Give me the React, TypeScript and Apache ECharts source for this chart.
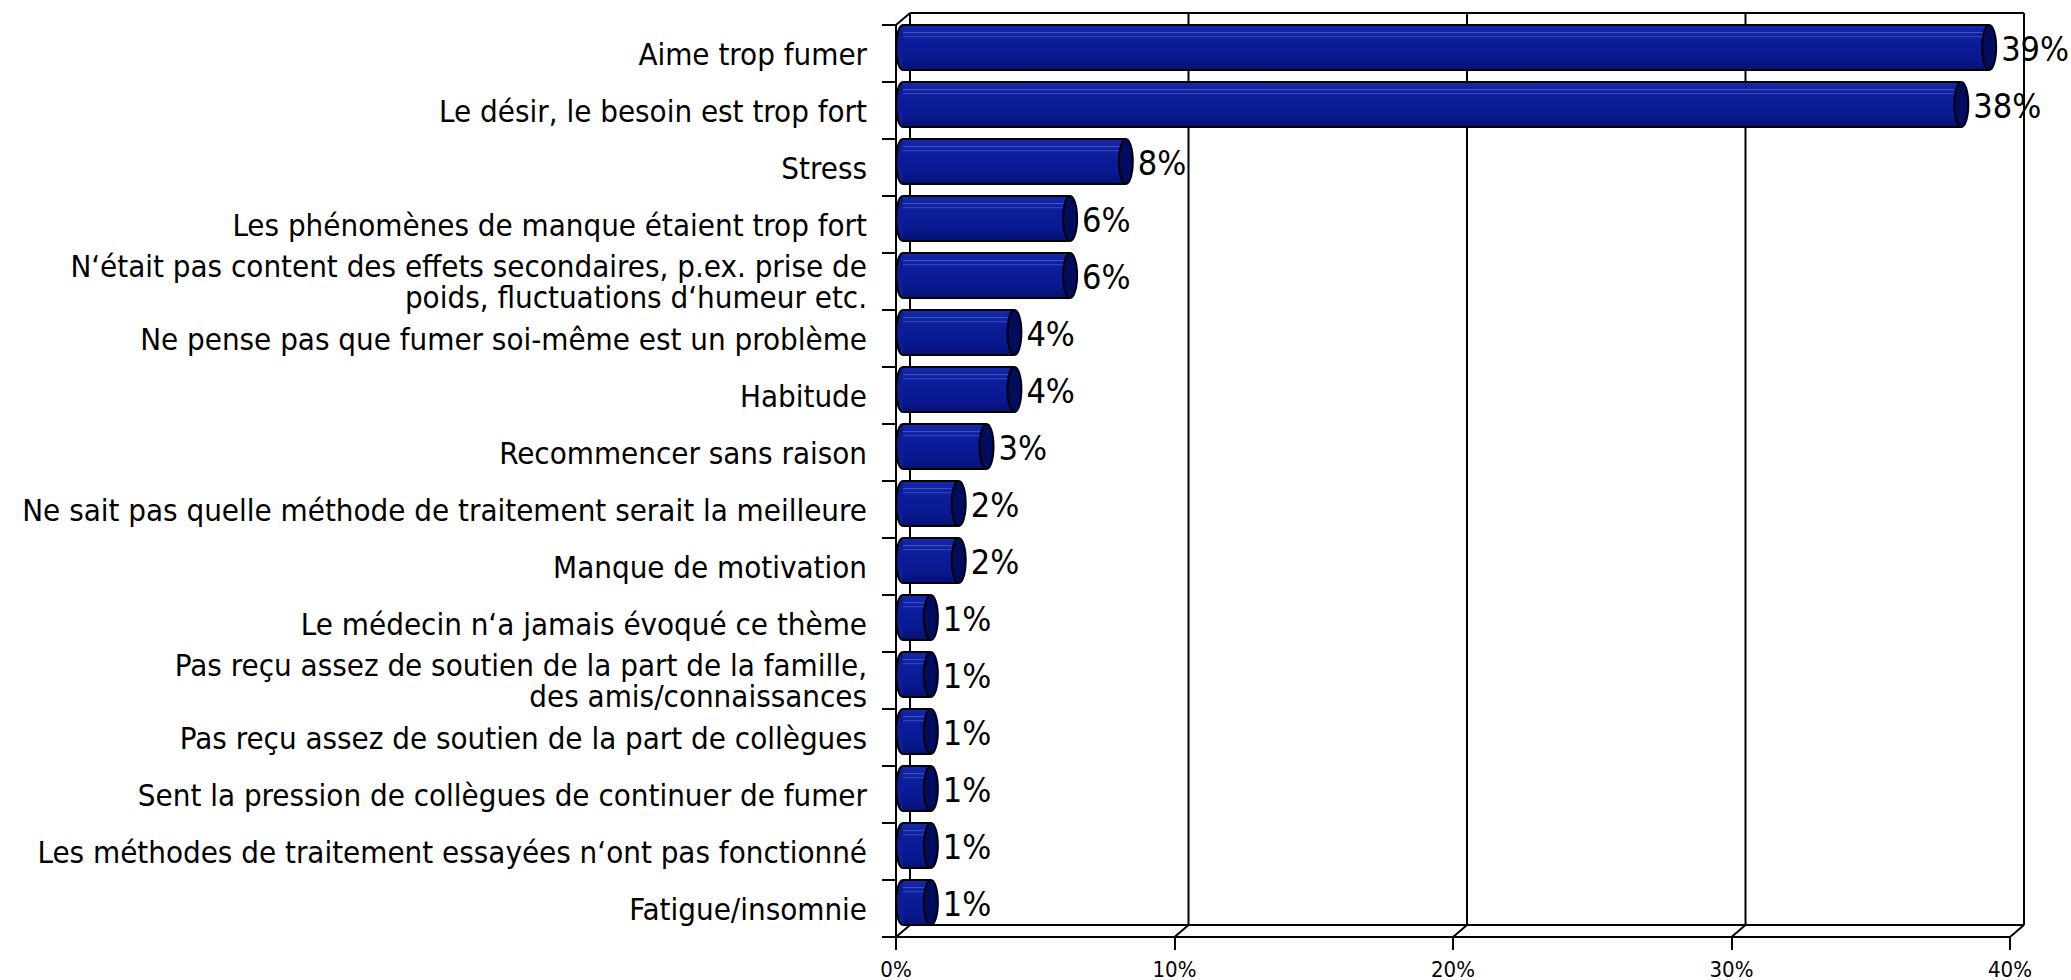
import React, { useEffect, useRef } from "react";
import * as echarts from "echarts";

const categories: string[] = [
  "Aime trop fumer",
  "Le désir, le besoin est trop fort",
  "Stress",
  "Les phénomènes de manque étaient trop fort",
  "N‘était pas content des effets secondaires, p.ex. prise de\npoids, fluctuations d‘humeur etc.",
  "Ne pense pas que fumer soi-même est un problème",
  "Habitude",
  "Recommencer sans raison",
  "Ne sait pas quelle méthode de traitement serait la meilleure",
  "Manque de motivation",
  "Le médecin n‘a jamais évoqué ce thème",
  "Pas reçu assez de soutien de la part de la famille,\ndes amis/connaissances",
  "Pas reçu assez de soutien de la part de collègues",
  "Sent la pression de collègues de continuer de fumer",
  "Les méthodes de traitement essayées n‘ont pas fonctionné",
  "Fatigue/insomnie",
];

const values: number[] = [39, 38, 8, 6, 6, 4, 4, 3, 2, 2, 1, 1, 1, 1, 1, 1];

const xTicks: number[] = [0, 10, 20, 30, 40];

const FONT = "'DejaVu Sans Condensed', 'DejaVu Sans', sans-serif";
const DEPTH_X = 14;
const DEPTH_Y = -12;

export default function App() {
  const ref = useRef<HTMLDivElement>(null);

  useEffect(() => {
    document.body.style.margin = "0";
    if (!ref.current) return;
    const chart = echarts.init(ref.current, undefined, { renderer: "svg" });

    const frameItem = (params: any, api: any) => {
      const cs = params.coordSys;
      const x0 = cs.x;
      const y0 = cs.y;
      const x1 = cs.x + cs.width;
      const y1 = cs.y + cs.height;
      const ls = { stroke: "#000", lineWidth: 2 };
      const children: any[] = [];
      const bx0 = x0 + DEPTH_X;
      const bx1 = x1 + DEPTH_X;
      const by0 = y0 + DEPTH_Y;
      const by1 = y1 + DEPTH_Y;
      children.push({ type: "line", shape: { x1: bx0, y1: by0, x2: bx1, y2: by0 }, style: ls });
      children.push({ type: "line", shape: { x1: bx0, y1: by1, x2: bx1, y2: by1 }, style: ls });
      children.push({ type: "line", shape: { x1: bx0, y1: by0, x2: bx0, y2: by1 }, style: ls });
      children.push({ type: "line", shape: { x1: bx1, y1: by0, x2: bx1, y2: by1 }, style: ls });
      children.push({ type: "line", shape: { x1: x0, y1: y0, x2: bx0, y2: by0 }, style: ls });
      xTicks.forEach((t) => {
        const px = api.coord([t, 0])[0];
        if (t > 0 && t < xTicks[xTicks.length - 1]) {
          children.push({
            type: "line",
            shape: { x1: px + DEPTH_X, y1: by0, x2: px + DEPTH_X, y2: by1 },
            style: ls,
          });
        }
        children.push({
          type: "line",
          shape: { x1: px, y1: y1, x2: px + DEPTH_X, y2: by1 },
          style: ls,
        });
      });
      return { type: "group", children };
    };

    const barItem = (params: any, api: any) => {
      const v = api.value(0);
      const idx = api.value(1);
      const end = api.coord([v, idx]);
      const start = api.coord([0, idx]);
      const band = api.size([0, 1])[1];
      const h = band * 0.79;
      const dx = DEPTH_X / 2;
      const dy = DEPTH_Y / 2;
      const cy = end[1] + dy;
      const top = cy - h / 2;
      const bottom = cy + h / 2;
      const xs = start[0] + dx;
      const xe = end[0] + dx;
      const rx = 7;
      const grad = new echarts.graphic.LinearGradient(0, 0, 0, 1, [
        { offset: 0, color: "#1428aa" },
        { offset: 0.35, color: "#0c1d9c" },
        { offset: 0.75, color: "#09188e" },
        { offset: 1, color: "#051174" },
      ]);
      return {
        type: "group",
        children: [
          {
            type: "ellipse",
            shape: { cx: xs, cy, rx, ry: h / 2 },
            style: { fill: "#0c1d9c", stroke: "#000", lineWidth: 2 },
          },
          {
            type: "rect",
            shape: { x: xs, y: top, width: xe - xs, height: h },
            style: { fill: grad },
          },
          {
            type: "line",
            shape: { x1: xs, y1: top + h * 0.17, x2: xe, y2: top + h * 0.17 },
            style: { stroke: "rgba(110,130,220,0.55)", lineWidth: 1 },
          },
          {
            type: "line",
            shape: { x1: xs, y1: top + h * 0.26, x2: xe, y2: top + h * 0.26 },
            style: { stroke: "rgba(110,130,220,0.45)", lineWidth: 1 },
          },
          {
            type: "line",
            shape: { x1: xs, y1: top, x2: xe, y2: top },
            style: { stroke: "#000", lineWidth: 2 },
          },
          {
            type: "line",
            shape: { x1: xs, y1: bottom, x2: xe, y2: bottom },
            style: { stroke: "#000", lineWidth: 2 },
          },
          {
            type: "ellipse",
            shape: { cx: xe, cy, rx, ry: h / 2 },
            style: { fill: "#000d5e", stroke: "#000", lineWidth: 2 },
          },
          {
            type: "text",
            style: {
              text: `${v}%`,
              x: xe + rx + 5,
              y: cy + 1,
              fill: "#000",
              font: `34px ${FONT}`,
              align: "left",
              verticalAlign: "middle",
            },
          },
        ],
      };
    };

    chart.setOption({
      animation: false,
      backgroundColor: "#fff",
      grid: {
        left: 896,
        top: 25,
        width: 1114,
        height: 912,
        outerBoundsMode: "none",
        containLabel: false,
      },
      xAxis: {
        type: "value",
        min: 0,
        max: 40,
        interval: 10,
        position: "bottom",
        axisLine: { show: true, lineStyle: { color: "#000", width: 2 } },
        axisTick: { show: true, length: 13, lineStyle: { color: "#000", width: 2 } },
        axisLabel: {
          formatter: "{value}%",
          color: "#000",
          fontSize: 22,
          fontFamily: FONT,
          margin: 21,
        },
        splitLine: { show: false },
      },
      yAxis: {
        type: "category",
        inverse: true,
        data: categories,
        axisLine: { show: true, lineStyle: { color: "#000", width: 2 } },
        axisTick: { show: true, length: 14, lineStyle: { color: "#000", width: 2 } },
        axisLabel: {
          color: "#000",
          fontSize: 31,
          lineHeight: 31,
          fontFamily: FONT,
          margin: 29,
          align: "right",
        },
        splitLine: { show: false },
      },
      series: [
        {
          type: "custom",
          name: "frame",
          renderItem: frameItem,
          data: [[0, 0]],
          z: 1,
          silent: true,
        },
        {
          type: "custom",
          name: "bars",
          renderItem: barItem,
          encode: { x: 0, y: 1 },
          data: values.map((v, i) => [v, i]),
          z: 5,
        },
      ],
    });

    return () => chart.dispose();
  }, []);

  return <div ref={ref} style={{ width: 2071, height: 980 }} />;
}
